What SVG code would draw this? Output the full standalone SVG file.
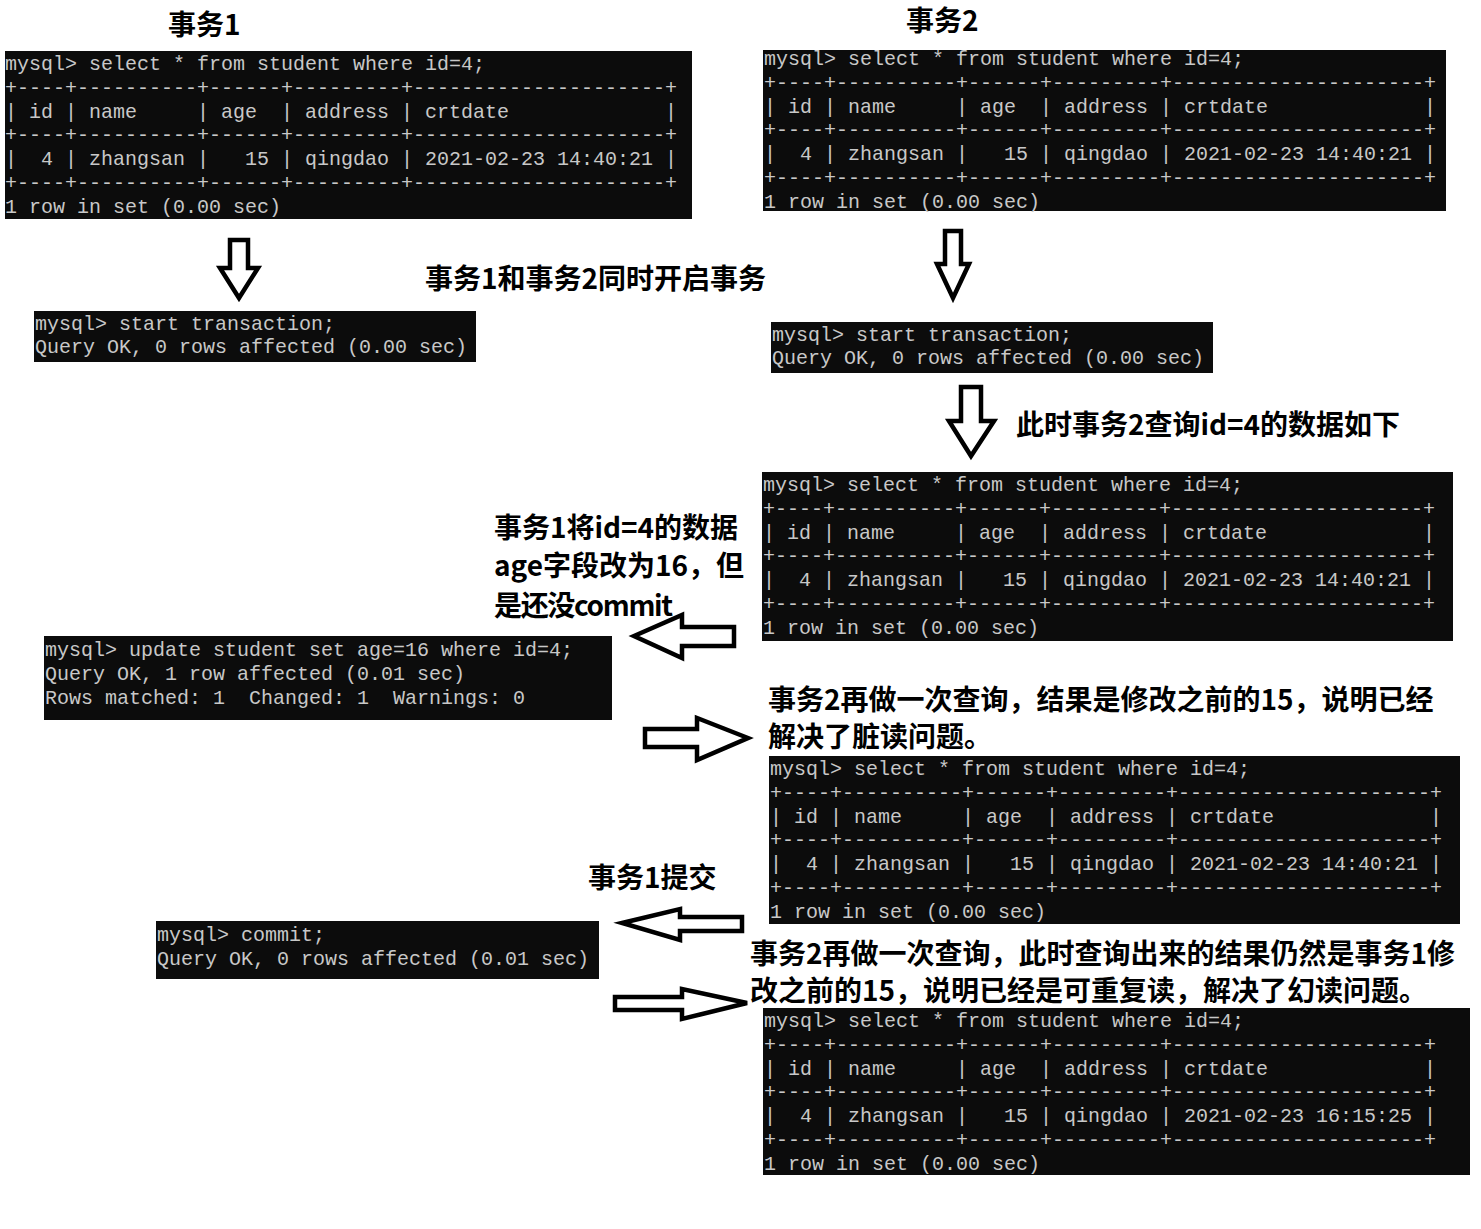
<svg xmlns="http://www.w3.org/2000/svg" width="1481" height="1229" viewBox="0 0 1481 1229">
<defs>
<style>
.bg{fill:#0c0c0c}
.tt{font-family:"Liberation Mono","DejaVu Sans Mono",monospace;font-size:21px;fill:#c8c8c8;white-space:pre}
.lbl{font-family:"Noto Sans CJK SC","Noto Sans",sans-serif;font-weight:bold;font-size:28px;fill:#000}
.arr{fill:#fff;stroke:#000;stroke-width:4.5;stroke-linejoin:miter}
</style>
</defs>
<rect width="1481" height="1229" fill="#fff"/>

<g id="label-tx1"><text class="lbl" x="168" y="35">事务1</text></g>
<g id="label-tx2"><text class="lbl" x="906" y="31">事务2</text></g>
<g id="label-start"><text class="lbl" x="425" y="289">事务1和事务2同时开启事务</text></g>
<g id="label-query"><text class="lbl" x="1016" y="435">此时事务2查询id=4的数据如下</text></g>
<g id="label-update">
<text class="lbl" x="494" y="538">事务1将id=4的数据</text>
<text class="lbl" x="494" y="576" font-size="27">age字段改为16，但</text>
<text class="lbl" x="494" y="616" textLength="179">是还没commit</text>
</g>
<g id="label-dirty">
<text class="lbl" x="768" y="710">事务2再做一次查询，结果是修改之前的15，说明已经</text>
<text class="lbl" x="768" y="747">解决了脏读问题。</text>
</g>
<g id="label-commit"><text class="lbl" x="588" y="888">事务1提交</text></g>
<g id="label-repeat">
<text class="lbl" x="750" y="964">事务2再做一次查询，此时查询出来的结果仍然是事务1修</text>
<text class="lbl" x="750" y="1001">改之前的15，说明已经是可重复读，解决了幻读问题。</text>
</g>

<g id="term-a">
<rect class="bg" x="5" y="51" width="687" height="168"/>
<g transform="translate(5,0) scale(0.95238,1)">
<text class="tt" x="0" y="70">mysql&gt; select * from student where id=4;</text>
<text class="tt" x="0" y="93.8">+----+----------+------+---------+---------------------+</text>
<text class="tt" x="0" y="117.6">| id | name     | age  | address | crtdate             |</text>
<text class="tt" x="0" y="141.4">+----+----------+------+---------+---------------------+</text>
<text class="tt" x="0" y="165.2">|  4 | zhangsan |   15 | qingdao | 2021-02-23 14:40:21 |</text>
<text class="tt" x="0" y="189">+----+----------+------+---------+---------------------+</text>
<text class="tt" x="0" y="212.8">1 row in set (0.00 sec)</text>
</g>
</g>

<g id="term-b">
<rect class="bg" x="763" y="50" width="683" height="161"/>
<g transform="translate(764,0) scale(0.95238,1)">
<text class="tt" x="0" y="65">mysql&gt; select * from student where id=4;</text>
<text class="tt" x="0" y="88.8">+----+----------+------+---------+---------------------+</text>
<text class="tt" x="0" y="112.6">| id | name     | age  | address | crtdate             |</text>
<text class="tt" x="0" y="136.4">+----+----------+------+---------+---------------------+</text>
<text class="tt" x="0" y="160.2">|  4 | zhangsan |   15 | qingdao | 2021-02-23 14:40:21 |</text>
<text class="tt" x="0" y="184">+----+----------+------+---------+---------------------+</text>
<text class="tt" x="0" y="207.8">1 row in set (0.00 sec)</text>
</g>
</g>

<g id="term-c">
<rect class="bg" x="34" y="311" width="442" height="51"/>
<g transform="translate(35,0) scale(0.95238,1)">
<text class="tt" x="0" y="330">mysql&gt; start transaction;</text>
<text class="tt" x="0" y="353.5">Query OK, 0 rows affected (0.00 sec)</text>
</g>
</g>

<g id="term-d">
<rect class="bg" x="771" y="322" width="442" height="51"/>
<g transform="translate(772,0) scale(0.95238,1)">
<text class="tt" x="0" y="341">mysql&gt; start transaction;</text>
<text class="tt" x="0" y="364.5">Query OK, 0 rows affected (0.00 sec)</text>
</g>
</g>

<g id="term-e">
<rect class="bg" x="762" y="472" width="691" height="169"/>
<g transform="translate(763,0) scale(0.95238,1)">
<text class="tt" x="0" y="491">mysql&gt; select * from student where id=4;</text>
<text class="tt" x="0" y="514.8">+----+----------+------+---------+---------------------+</text>
<text class="tt" x="0" y="538.6">| id | name     | age  | address | crtdate             |</text>
<text class="tt" x="0" y="562.4">+----+----------+------+---------+---------------------+</text>
<text class="tt" x="0" y="586.2">|  4 | zhangsan |   15 | qingdao | 2021-02-23 14:40:21 |</text>
<text class="tt" x="0" y="610">+----+----------+------+---------+---------------------+</text>
<text class="tt" x="0" y="633.8">1 row in set (0.00 sec)</text>
</g>
</g>

<g id="term-f">
<rect class="bg" x="44" y="636" width="568" height="84"/>
<g transform="translate(45,0) scale(0.95238,1)">
<text class="tt" x="0" y="656">mysql&gt; update student set age=16 where id=4;</text>
<text class="tt" x="0" y="679.8">Query OK, 1 row affected (0.01 sec)</text>
<text class="tt" x="0" y="703.6">Rows matched: 1  Changed: 1  Warnings: 0</text>
</g>
</g>

<g id="term-g">
<rect class="bg" x="769" y="756" width="691" height="168"/>
<g transform="translate(770,0) scale(0.95238,1)">
<text class="tt" x="0" y="775">mysql&gt; select * from student where id=4;</text>
<text class="tt" x="0" y="798.8">+----+----------+------+---------+---------------------+</text>
<text class="tt" x="0" y="822.6">| id | name     | age  | address | crtdate             |</text>
<text class="tt" x="0" y="846.4">+----+----------+------+---------+---------------------+</text>
<text class="tt" x="0" y="870.2">|  4 | zhangsan |   15 | qingdao | 2021-02-23 14:40:21 |</text>
<text class="tt" x="0" y="894">+----+----------+------+---------+---------------------+</text>
<text class="tt" x="0" y="917.8">1 row in set (0.00 sec)</text>
</g>
</g>

<g id="term-h">
<rect class="bg" x="156" y="921" width="443" height="58"/>
<g transform="translate(157,0) scale(0.95238,1)">
<text class="tt" x="0" y="941">mysql&gt; commit;</text>
<text class="tt" x="0" y="964.8">Query OK, 0 rows affected (0.01 sec)</text>
</g>
</g>

<g id="term-i">
<rect class="bg" x="763" y="1008" width="707" height="167"/>
<g transform="translate(764,0) scale(0.95238,1)">
<text class="tt" x="0" y="1027">mysql&gt; select * from student where id=4;</text>
<text class="tt" x="0" y="1050.8">+----+----------+------+---------+---------------------+</text>
<text class="tt" x="0" y="1074.6">| id | name     | age  | address | crtdate             |</text>
<text class="tt" x="0" y="1098.4">+----+----------+------+---------+---------------------+</text>
<text class="tt" x="0" y="1122.2">|  4 | zhangsan |   15 | qingdao | 2021-02-23 16:15:25 |</text>
<text class="tt" x="0" y="1146">+----+----------+------+---------+---------------------+</text>
<text class="tt" x="0" y="1169.8">1 row in set (0.00 sec)</text>
</g>
</g>

<g id="connectors">
<polygon class="arr" points="230,240 248,240 248,268 258,268 239,298 220,268 230,268"/>
<polygon class="arr" points="945,231 961,231 961,264 969,264 953,298 937,264 945,264"/>
<polygon class="arr" points="961,387 981,387 981,421 994,421 971,456 949,421 961,421"/>
<polygon class="arr" points="634,636 682,615 682,627 734,627 734,646 682,646 682,658"/>
<polygon class="arr" points="645,729 697,729 697,718 748,738 697,760 697,747 645,747"/>
<polygon class="arr" points="622,923 680,909 680,917 742,917 742,931 680,931 680,940"/>
<polygon class="arr" points="615,997 682,997 682,989 747,1003 682,1019 682,1010 615,1010"/>
</g>
</svg>
